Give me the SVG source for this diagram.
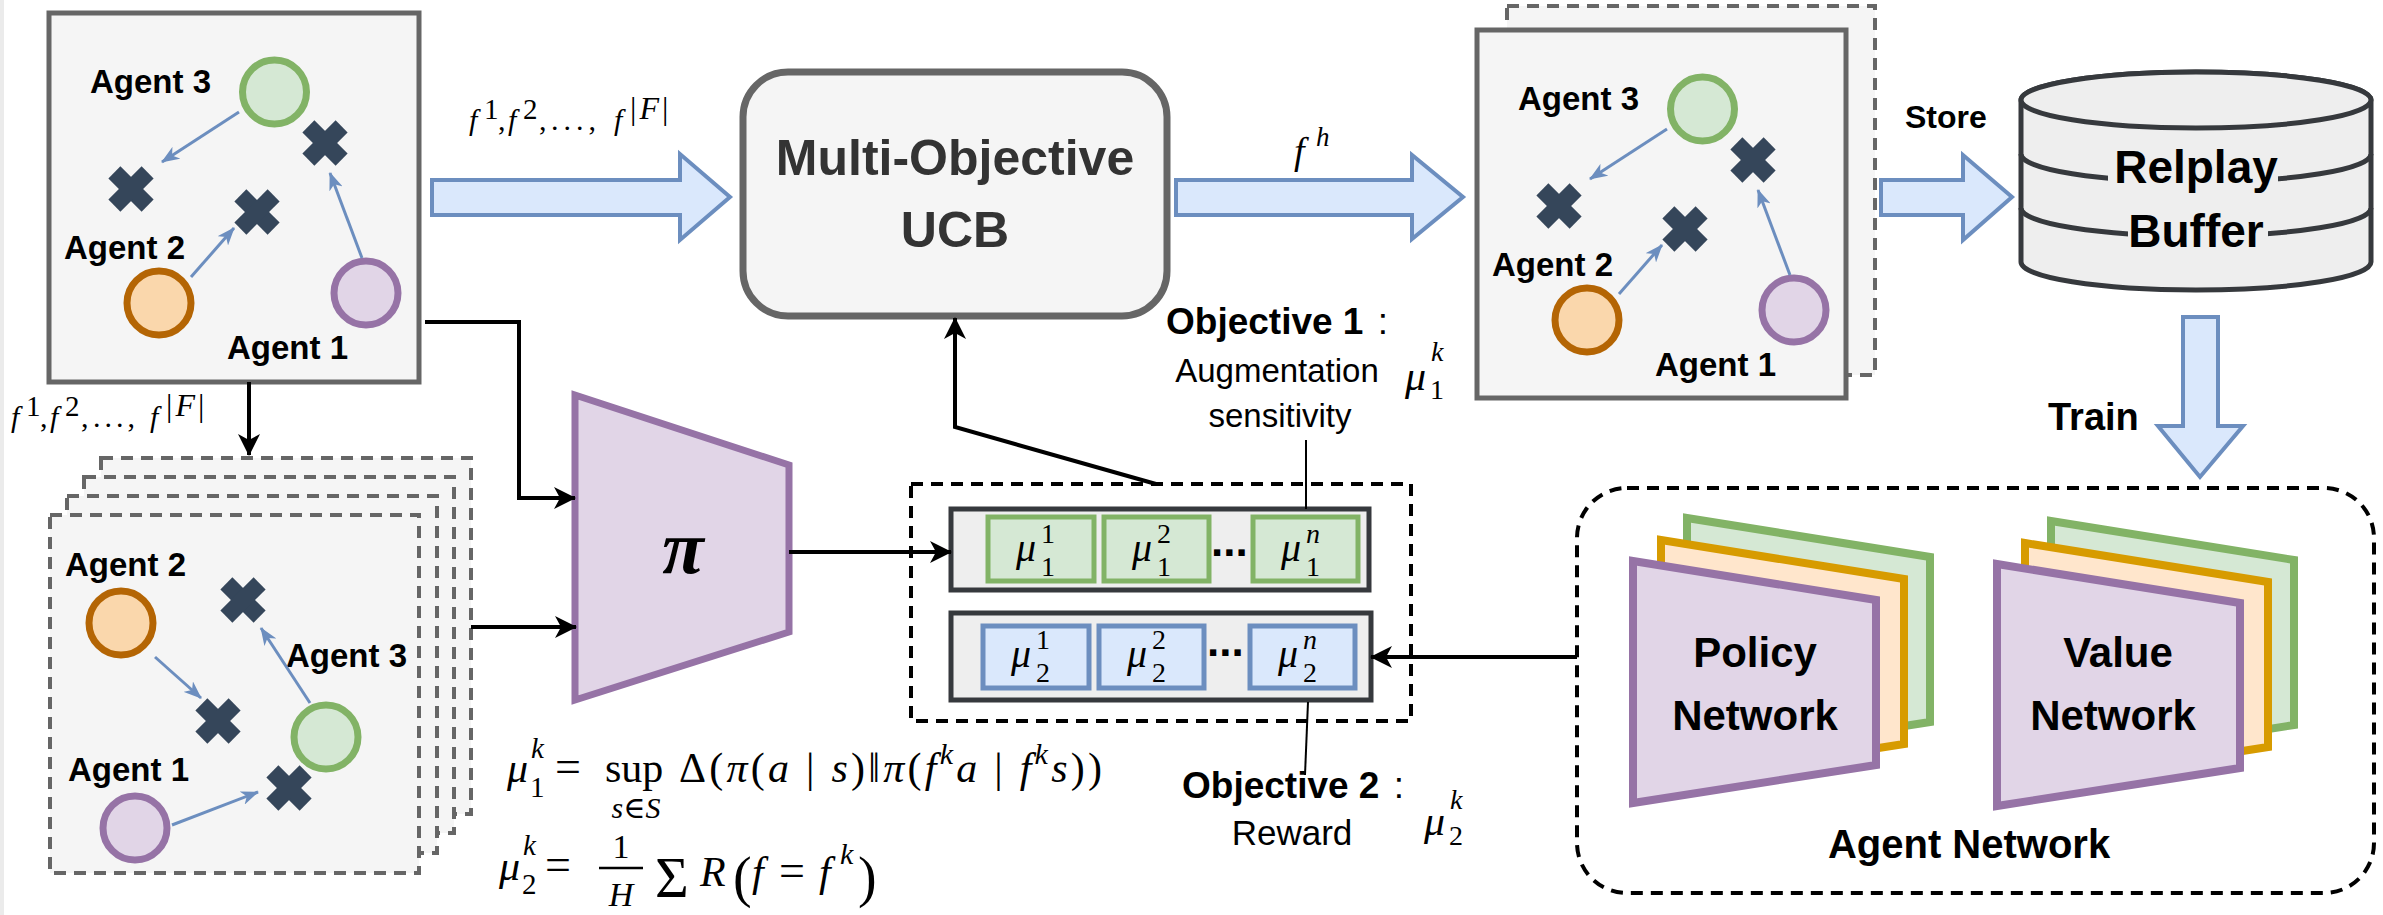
<svg xmlns="http://www.w3.org/2000/svg" xmlns:xlink="http://www.w3.org/1999/xlink" width="2383" height="915" viewBox="0 0 2383 915">
<style>
.lbl{font-family:"Liberation Sans",Arial,sans-serif;font-weight:bold;fill:#000}
.reg{font-family:"Liberation Sans",Arial,sans-serif;fill:#000}
.m{font-family:"Liberation Serif","DejaVu Serif",serif;fill:#000}
.mi{font-family:"Liberation Serif","DejaVu Serif",serif;font-style:italic;fill:#000}
.box{fill:#f5f5f5;stroke:#666666;stroke-width:5}
.dbox{fill:#f5f5f5;stroke:#666666;stroke-width:4;stroke-dasharray:12 8}
.cg{fill:#d5e8d4;stroke:#82b366;stroke-width:7}
.co{fill:#fad7ac;stroke:#b46504;stroke-width:7}
.cp{fill:#e1d5e7;stroke:#9673a6;stroke-width:7}
.ba{fill:none;stroke:#6c8ebf;stroke-width:3;marker-end:url(#mb)}
.blk{fill:none;stroke:#000;stroke-width:4}
.thin{fill:none;stroke:#000;stroke-width:2}
.big{fill:#dae8fc;stroke:#6c8ebf;stroke-width:4}
.row{fill:#eeeeee;stroke:#36393d;stroke-width:5}
.gc{fill:#d5e8d4;stroke:#82b366;stroke-width:5}
.bc{fill:#dae8fc;stroke:#6c8ebf;stroke-width:5}
.pg{fill:#d5e8d4;stroke:#82b366;stroke-width:8}
.po{fill:#ffe6cc;stroke:#d79b00;stroke-width:8}
.pp{fill:#e1d5e7;stroke:#9673a6;stroke-width:8}
</style>
<defs>
<marker id="mb" markerUnits="userSpaceOnUse" markerWidth="18" markerHeight="14" refX="17" refY="7" orient="auto">
<path d="M0,0 L18,7 L0,14 L5,7 Z" fill="#6c8ebf"/>
</marker>
<marker id="mk" markerUnits="userSpaceOnUse" markerWidth="22" markerHeight="22" refX="21" refY="11" orient="auto">
<path d="M0,0 L22,11 L0,22 L6,11 Z" fill="#000"/>
</marker>
<g id="xm" fill="#35465a">
<rect x="-23.5" y="-8.5" width="47" height="17" transform="rotate(45)"/>
<rect x="-23.5" y="-8.5" width="47" height="17" transform="rotate(-45)"/>
</g>
</defs>
<rect x="0" y="0" width="2383" height="915" fill="#ffffff"/>
<rect x="0" y="0" width="4" height="915" fill="#ebebeb"/>

<g id="env-box-1" transform="translate(49,13)">
<rect class="box" x="0" y="0" width="370" height="369"/>
<text class="lbl" x="41" y="80" font-size="33">Agent 3</text>
<circle class="cg" cx="225.5" cy="79" r="32"/>
<use href="#xm" x="276" y="130"/>
<use href="#xm" x="82" y="176"/>
<use href="#xm" x="208" y="199"/>
<text class="lbl" x="15" y="246" font-size="33">Agent 2</text>
<circle class="co" cx="110" cy="290" r="32"/>
<circle class="cp" cx="317" cy="280" r="32"/>
<text class="lbl" x="178" y="346" font-size="33">Agent 1</text>
<line class="ba" x1="190" y1="99" x2="113" y2="149"/>
<line class="ba" x1="142" y1="264" x2="185" y2="215"/>
<line class="ba" x1="313" y1="245" x2="281" y2="160"/>
</g>

<g id="env-box-2">
<rect class="dbox" x="1507" y="6" width="368" height="369"/>
<g transform="translate(1477,30)">
<rect class="box" x="0" y="0" width="369" height="368"/>
<text class="lbl" x="41" y="80" font-size="33">Agent 3</text>
<circle class="cg" cx="225.5" cy="79" r="32"/>
<use href="#xm" x="276" y="130"/>
<use href="#xm" x="82" y="176"/>
<use href="#xm" x="208" y="199"/>
<text class="lbl" x="15" y="246" font-size="33">Agent 2</text>
<circle class="co" cx="110" cy="290" r="32"/>
<circle class="cp" cx="317" cy="280" r="32"/>
<text class="lbl" x="178" y="346" font-size="33">Agent 1</text>
<line class="ba" x1="190" y1="99" x2="113" y2="149"/>
<line class="ba" x1="142" y1="264" x2="185" y2="215"/>
<line class="ba" x1="313" y1="245" x2="281" y2="160"/>
</g>
</g>

<g id="augmented-stack">
<rect class="dbox" x="101" y="458" width="370" height="356"/>
<rect class="dbox" x="84" y="477" width="370" height="356"/>
<rect class="dbox" x="67" y="496" width="370" height="357"/>
<rect class="dbox" x="50" y="515" width="369" height="358"/>
<text class="lbl" x="65" y="576" font-size="33">Agent 2</text>
<circle class="co" cx="121" cy="623" r="32"/>
<use href="#xm" x="243" y="600"/>
<use href="#xm" x="218" y="721"/>
<text class="lbl" x="286" y="667" font-size="33">Agent 3</text>
<circle class="cg" cx="326" cy="737" r="32"/>
<text class="lbl" x="68" y="781" font-size="33">Agent 1</text>
<circle class="cp" cx="135" cy="828" r="32"/>
<use href="#xm" x="289" y="788"/>
<line class="ba" x1="155" y1="657" x2="201" y2="698"/>
<line class="ba" x1="310" y1="703" x2="261" y2="628"/>
<line class="ba" x1="172" y1="825" x2="258" y2="792"/>
</g>

<g id="mo-ucb">
<rect x="743" y="72" width="424" height="244" rx="45" ry="45" fill="#f5f5f5" stroke="#666666" stroke-width="7"/>
<text class="lbl" x="955" y="175" font-size="50" text-anchor="middle" style="fill:#333333">Multi-Objective</text>
<text class="lbl" x="955" y="247" font-size="50" text-anchor="middle" style="fill:#333333">UCB</text>
</g>

<g id="policy-pi">
<path d="M575,395 L789,465 L789,632 L575,700 Z" fill="#e1d5e7" stroke="#9673a6" stroke-width="7"/>
<text class="m" x="683" y="573" font-size="76" font-weight="bold" font-style="italic" text-anchor="middle">π</text>
</g>

<g id="objective-table">
<rect x="911" y="484" width="500" height="237" fill="none" stroke="#000" stroke-width="4" stroke-dasharray="12 8"/>
<rect class="row" x="951" y="509" width="418" height="81"/>
<rect class="gc" x="988" y="517" width="106" height="64"/>
<rect class="gc" x="1104" y="517" width="105" height="64"/>
<rect class="gc" x="1253" y="517" width="105" height="64"/>
<text class="mi" x="1016" y="561" font-size="40">μ</text>
<text class="m" x="1041" y="543" font-size="28">1</text>
<text class="m" x="1041" y="576" font-size="28">1</text>
<text class="mi" x="1132" y="561" font-size="40">μ</text>
<text class="m" x="1157" y="543" font-size="28">2</text>
<text class="m" x="1157" y="576" font-size="28">1</text>
<text class="mi" x="1281" y="561" font-size="40">μ</text>
<text class="mi" x="1306" y="543" font-size="28">n</text>
<text class="m" x="1306" y="576" font-size="28">1</text>
<text class="lbl" x="1211" y="556" font-size="44">...</text>
<rect class="row" x="951" y="613" width="420" height="87"/>
<rect class="bc" x="983" y="626" width="106" height="62"/>
<rect class="bc" x="1099" y="626" width="105" height="62"/>
<rect class="bc" x="1250" y="626" width="105" height="62"/>
<text class="mi" x="1011" y="667" font-size="40">μ</text>
<text class="m" x="1036" y="649" font-size="28">1</text>
<text class="m" x="1036" y="682" font-size="28">2</text>
<text class="mi" x="1127" y="667" font-size="40">μ</text>
<text class="m" x="1152" y="649" font-size="28">2</text>
<text class="m" x="1152" y="682" font-size="28">2</text>
<text class="mi" x="1278" y="667" font-size="40">μ</text>
<text class="mi" x="1303" y="649" font-size="28">n</text>
<text class="m" x="1303" y="682" font-size="28">2</text>
<text class="lbl" x="1207" y="656" font-size="44">...</text>
</g>

<g id="objective-1-label">
<text x="1166" y="334" font-size="37"><tspan class="lbl">Objective 1</tspan><tspan class="reg" dx="4"> :</tspan></text>
<text class="reg" x="1277" y="382" font-size="33" text-anchor="middle">Augmentation</text>
<text class="reg" x="1280" y="427" font-size="33" text-anchor="middle">sensitivity</text>
<text class="mi" x="1405" y="390" font-size="42">μ</text>
<text class="mi" x="1431" y="361" font-size="28">k</text>
<text class="m" x="1430" y="399" font-size="28">1</text>
</g>

<g id="objective-2-label">
<text x="1182" y="798" font-size="37"><tspan class="lbl">Objective 2</tspan><tspan class="reg" dx="4"> :</tspan></text>
<text class="reg" x="1292" y="845" font-size="35" text-anchor="middle">Reward</text>
<text class="mi" x="1424" y="835" font-size="42">μ</text>
<text class="mi" x="1450" y="809" font-size="28">k</text>
<text class="m" x="1449" y="845" font-size="28">2</text>
</g>

<g id="formulas">
<text class="mi" x="507" y="782" font-size="42">μ</text>
<text class="mi" x="531" y="758" font-size="29">k</text>
<text class="m" x="530" y="797" font-size="29">1</text>
<text class="m" x="555" y="782" font-size="46">=</text>
<text class="m" x="605" y="782" font-size="42">sup</text>
<text class="m" x="636" y="818" font-size="30" text-anchor="middle"><tspan font-style="italic">s</tspan>∈<tspan font-style="italic">S</tspan></text>
<text class="m" x="679" y="782" font-size="42" textLength="423" lengthAdjust="spacing">Δ(<tspan font-style="italic">π</tspan>(<tspan font-style="italic">a</tspan> | <tspan font-style="italic">s</tspan>)‖<tspan font-style="italic">π</tspan>(<tspan font-style="italic">f</tspan><tspan font-style="italic" font-size="30" dy="-18">k</tspan><tspan font-style="italic" dy="18">a</tspan> | <tspan font-style="italic">f</tspan><tspan font-style="italic" font-size="30" dy="-18">k</tspan><tspan font-style="italic" dy="18">s</tspan>))</text>
<text class="mi" x="499" y="880" font-size="42">μ</text>
<text class="mi" x="523" y="855" font-size="29">k</text>
<text class="m" x="522" y="894" font-size="29">2</text>
<text class="m" x="545" y="880" font-size="46">=</text>
<text class="m" x="621" y="858" font-size="34" text-anchor="middle">1</text>
<line x1="599" y1="868" x2="643" y2="868" stroke="#000" stroke-width="2.5"/>
<text class="mi" x="621" y="906" font-size="34" text-anchor="middle">H</text>
<text class="m" x="655" y="897" font-size="58">Σ</text>
<text class="mi" x="700" y="886" font-size="42">R</text>
<text class="m" x="733" y="896" font-size="56">(</text>
<text class="mi" x="752" y="886" font-size="42">f</text>
<text class="m" x="779" y="886" font-size="46">=</text>
<text class="mi" x="819" y="886" font-size="42">f</text>
<text class="mi" x="840" y="864" font-size="30">k</text>
<text class="m" x="858" y="896" font-size="56">)</text>
</g>

<g id="edge-labels">
<text class="m" y="130" font-size="30"><tspan x="469" font-style="italic">f</tspan><tspan x="484" y="119" font-size="29">1</tspan><tspan x="498" y="130">,</tspan><tspan x="508" font-style="italic">f</tspan><tspan x="523" y="119" font-size="29">2</tspan><tspan x="539" y="130">,</tspan><tspan x="551" letter-spacing="5">...,</tspan><tspan x="614" font-style="italic">f</tspan><tspan x="630" y="119" font-size="32" letter-spacing="3">|<tspan font-style="italic">F</tspan>|</tspan></text>
<text class="m" y="427" font-size="30"><tspan x="11" font-style="italic">f</tspan><tspan x="26" y="416" font-size="29">1</tspan><tspan x="40" y="427">,</tspan><tspan x="50" font-style="italic">f</tspan><tspan x="65" y="416" font-size="29">2</tspan><tspan x="81" y="427">,</tspan><tspan x="93" letter-spacing="4">...,</tspan><tspan x="150" font-style="italic">f</tspan><tspan x="166" y="416" font-size="32" letter-spacing="3">|<tspan font-style="italic">F</tspan>|</tspan></text>
<text class="mi" x="1294" y="164" font-size="38">f</text>
<text class="mi" x="1316" y="146" font-size="27">h</text>
<text class="lbl" x="1905" y="128" font-size="32">Store</text>
<text class="lbl" x="2048" y="430" font-size="38">Train</text>
</g>

<g id="replay-buffer">
<path d="M2021,100 A175,28 0 0 1 2371,100 V262 A175,28 0 0 1 2021,262 Z" fill="#eeeeee" stroke="#36393d" stroke-width="5"/>
<ellipse cx="2196" cy="100" rx="175" ry="28" fill="#eeeeee" stroke="#36393d" stroke-width="5"/>
<path d="M2021,154 A175,28 0 0 0 2371,154" fill="none" stroke="#36393d" stroke-width="5"/>
<path d="M2021,208 A175,28 0 0 0 2371,208" fill="none" stroke="#36393d" stroke-width="5"/>
<rect x="2108" y="146" width="170" height="48" fill="#eeeeee"/>
<rect x="2128" y="210" width="140" height="46" fill="#eeeeee"/>
<text class="lbl" x="2196" y="183" font-size="46" text-anchor="middle">Relplay</text>
<text class="lbl" x="2196" y="247" font-size="46" text-anchor="middle">Buffer</text>
</g>

<g id="agent-network">
<rect x="1577" y="488" width="797" height="405" rx="50" ry="50" fill="none" stroke="#000" stroke-width="4" stroke-dasharray="12 8"/>
<path class="pg" d="M1687,518 L1930,557 L1930,722 L1687,760 Z"/>
<path class="po" d="M1661,540 L1904,579 L1904,744 L1661,782 Z"/>
<path class="pp" d="M1633,561 L1876,600 L1876,765 L1633,803 Z"/>
<text class="lbl" x="1755" y="667" font-size="42" text-anchor="middle">Policy</text>
<text class="lbl" x="1755" y="730" font-size="42" text-anchor="middle">Network</text>
<path class="pg" d="M2051,521 L2294,560 L2294,725 L2051,763 Z"/>
<path class="po" d="M2025,543 L2268,582 L2268,747 L2025,785 Z"/>
<path class="pp" d="M1997,564 L2240,603 L2240,768 L1997,806 Z"/>
<text class="lbl" x="2118" y="667" font-size="42" text-anchor="middle">Value</text>
<text class="lbl" x="2113" y="730" font-size="42" text-anchor="middle">Network</text>
<text class="lbl" x="1969" y="858" font-size="40" text-anchor="middle">Agent Network</text>
</g>

<g id="connectors">
<path class="big" d="M432,180 H680 V154 L730,197 L680,240 V215 H432 Z"/>
<path class="big" d="M1176,180 H1412 V155 L1463,197 L1412,239 V215 H1176 Z"/>
<path class="big" d="M1881,180 H1963 V155 L2012,197 L1963,240 V215 H1881 Z"/>
<path class="big" d="M2183,317 H2218 V426 H2243 L2200,477 L2158,426 H2183 Z"/>
<polyline class="blk" points="425,322 519,322 519,498 575,498" marker-end="url(#mk)"/>
<line class="blk" x1="249" y1="382" x2="249" y2="455" marker-end="url(#mk)"/>
<line class="blk" x1="471" y1="627" x2="576" y2="627" marker-end="url(#mk)"/>
<line class="blk" x1="789" y1="552" x2="951" y2="552" marker-end="url(#mk)"/>
<line class="blk" x1="1577" y1="657" x2="1371" y2="657" marker-end="url(#mk)"/>
<polyline class="blk" points="1156,484 955,427 955,318" marker-end="url(#mk)"/>
<line class="thin" x1="1306" y1="509" x2="1306" y2="440"/>
<line class="thin" x1="1308" y1="702" x2="1305" y2="775"/>
</g>
</svg>
